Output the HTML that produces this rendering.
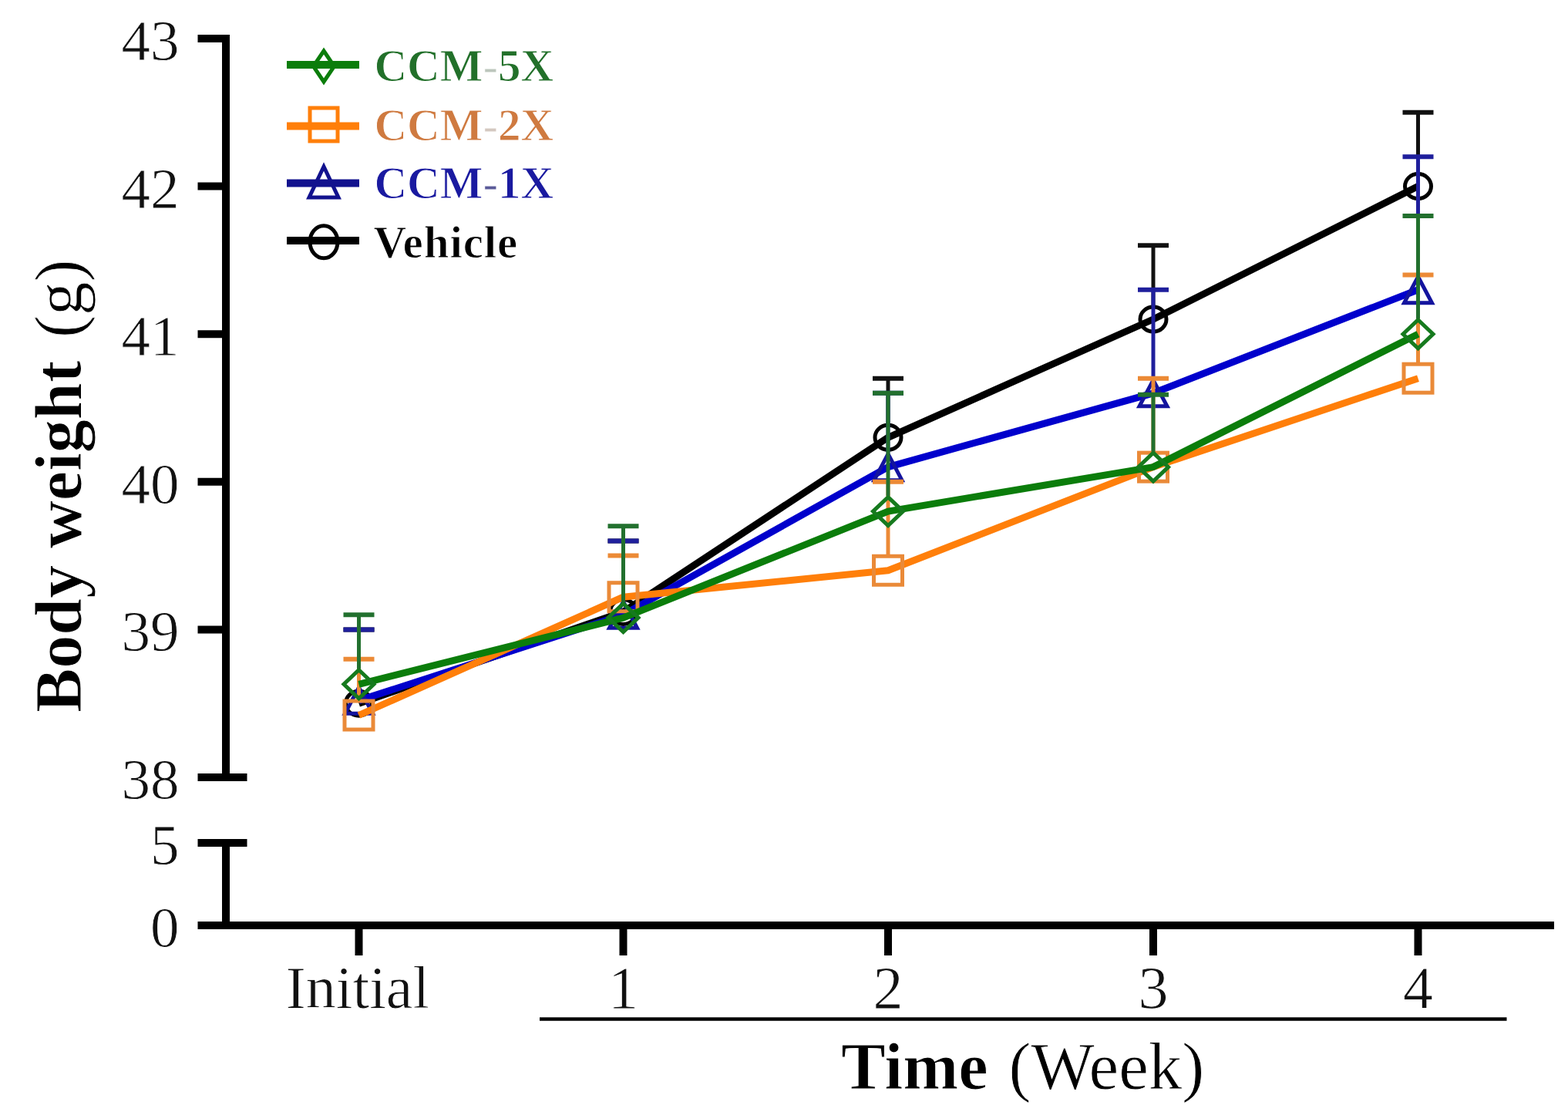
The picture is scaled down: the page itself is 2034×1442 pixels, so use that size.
<!DOCTYPE html>
<html><head><meta charset="utf-8"><title>Body weight chart</title>
<style>
html,body{margin:0;padding:0;background:#fff;}
body{width:2034px;height:1442px;overflow:hidden;}
svg{display:block;}
text{font-family:"Liberation Serif","Times New Roman",serif;}
.r{stroke:#fff;stroke-width:0.8px;}
.b{stroke:#fff;stroke-width:1px;}
</style></head><body>
<svg width="2034" height="1442" viewBox="0 0 2034 1442">
<rect width="2034" height="1442" fill="#fff"/>

<g stroke="#000" stroke-width="10" fill="none" stroke-linecap="butt">
<line x1="293" y1="45.5" x2="293" y2="1012.5"/>
<line x1="256.5" y1="50.0" x2="298" y2="50.0"/>
<line x1="256.5" y1="241.6" x2="298" y2="241.6"/>
<line x1="256.5" y1="433.2" x2="298" y2="433.2"/>
<line x1="256.5" y1="624.8" x2="298" y2="624.8"/>
<line x1="256.5" y1="816.4" x2="298" y2="816.4"/>
<line x1="256.5" y1="1008.0" x2="320.5" y2="1008.0"/>
<line x1="293" y1="1088.5" x2="293" y2="1204.5"/>
<line x1="256.5" y1="1093" x2="320.5" y2="1093"/>
<line x1="256.5" y1="1200" x2="2016" y2="1200"/>
<line x1="465.5" y1="1200" x2="465.5" y2="1239"/>
<line x1="808.5" y1="1200" x2="808.5" y2="1239"/>
<line x1="1152" y1="1200" x2="1152" y2="1239"/>
<line x1="1496" y1="1200" x2="1496" y2="1239"/>
<line x1="1839.5" y1="1200" x2="1839.5" y2="1239"/>
</g>
<line x1="700" y1="1321.5" x2="1954.5" y2="1321.5" stroke="#000" stroke-width="4.5"/>
<g class="r" font-size="75" text-anchor="end" fill="#111">
<text x="232.5" y="78.0">43</text>
<text x="232.5" y="269.6">42</text>
<text x="232.5" y="461.2">41</text>
<text x="232.5" y="652.8">40</text>
<text x="232.5" y="844.4">39</text>
<text x="232.5" y="1036.0">38</text>
<text x="232.5" y="1120.5">5</text>
<text x="232.5" y="1228">0</text>
</g>
<g class="r" font-size="78" text-anchor="middle" fill="#111">
<text x="464.0" y="1307">Initial</text>
<text x="808.5" y="1307">1</text>
<text x="1152" y="1307">2</text>
<text x="1496" y="1307">3</text>
<text x="1839.5" y="1307">4</text>
</g>
<text class="b" x="1091" y="1411.5" font-size="86.5" font-weight="bold" fill="#000">Time</text>
<text class="r" x="1308.5" y="1411.5" font-size="87" fill="#000">(Week)</text>
<g transform="translate(105,924) rotate(-90)"><text class="b" x="0" y="0" font-size="86" font-weight="bold" fill="#000">Body weight</text><text class="r" x="486" y="0" font-size="87" fill="#000">(g)</text></g>
<polyline points="465.5,912.2 808.5,793.4 1152,567.3 1496,414.0 1839.5,241.6" fill="none" stroke="#000" stroke-width="9" stroke-linejoin="round"/>
<ellipse cx="465.5" cy="912.1999999999999" rx="17.0" ry="16.0" fill="none" stroke="#000" stroke-width="5"/>
<ellipse cx="808.5" cy="793.4080000000005" rx="17.0" ry="16.0" fill="none" stroke="#000" stroke-width="5"/>
<ellipse cx="1152" cy="567.3200000000005" rx="17.0" ry="16.0" fill="none" stroke="#000" stroke-width="5"/>
<ellipse cx="1496" cy="414.03999999999974" rx="17.0" ry="16.0" fill="none" stroke="#000" stroke-width="5"/>
<ellipse cx="1839.5" cy="241.6" rx="17.0" ry="16.0" fill="none" stroke="#000" stroke-width="5"/>
<line x1="465.5" y1="894.6999999999999" x2="465.5" y2="816.4" stroke="#111" stroke-width="5"/>
<line x1="445.5" y1="816.4" x2="485.5" y2="816.4" stroke="#111" stroke-width="6"/>
<line x1="808.5" y1="775.9080000000005" x2="808.5" y2="701.4399999999997" stroke="#111" stroke-width="5"/>
<line x1="788.5" y1="701.4399999999997" x2="828.5" y2="701.4399999999997" stroke="#111" stroke-width="6"/>
<line x1="1152" y1="549.8200000000005" x2="1152" y2="490.67999999999944" stroke="#111" stroke-width="5"/>
<line x1="1132" y1="490.67999999999944" x2="1172" y2="490.67999999999944" stroke="#111" stroke-width="6"/>
<line x1="1496" y1="396.53999999999974" x2="1496" y2="318.2399999999997" stroke="#111" stroke-width="5"/>
<line x1="1476" y1="318.2399999999997" x2="1516" y2="318.2399999999997" stroke="#111" stroke-width="6"/>
<line x1="1839.5" y1="224.1" x2="1839.5" y2="145.8" stroke="#111" stroke-width="5"/>
<line x1="1819.5" y1="145.8" x2="1859.5" y2="145.8" stroke="#111" stroke-width="6"/>
<polyline points="465.5,908.4 808.5,797.2 1152,605.6 1496,509.8 1839.5,375.7" fill="none" stroke="#0000cc" stroke-width="9" stroke-linejoin="round"/>
<polygon points="465.5,891.3679999999994 483.5,925.3679999999994 447.5,925.3679999999994" fill="none" stroke="#14149e" stroke-width="5" stroke-linejoin="miter"/>
<polygon points="808.5,780.2399999999997 826.5,814.2399999999997 790.5,814.2399999999997" fill="none" stroke="#14149e" stroke-width="5" stroke-linejoin="miter"/>
<polygon points="1152,588.6399999999998 1170.0,622.6399999999998 1134.0,622.6399999999998" fill="none" stroke="#14149e" stroke-width="5" stroke-linejoin="miter"/>
<polygon points="1496,492.8399999999997 1514.0,526.8399999999997 1478.0,526.8399999999997" fill="none" stroke="#14149e" stroke-width="5" stroke-linejoin="miter"/>
<polygon points="1839.5,358.72000000000054 1857.5,392.72000000000054 1821.5,392.72000000000054" fill="none" stroke="#14149e" stroke-width="5" stroke-linejoin="miter"/>
<line x1="465.5" y1="889.8679999999994" x2="465.5" y2="816.4" stroke="#1f1f9c" stroke-width="5"/>
<line x1="445.5" y1="816.4" x2="485.5" y2="816.4" stroke="#1f1f9c" stroke-width="6"/>
<line x1="808.5" y1="778.7399999999997" x2="808.5" y2="701.4399999999997" stroke="#1f1f9c" stroke-width="5"/>
<line x1="788.5" y1="701.4399999999997" x2="828.5" y2="701.4399999999997" stroke="#1f1f9c" stroke-width="6"/>
<line x1="1152" y1="587.1399999999998" x2="1152" y2="509.8399999999997" stroke="#1f1f9c" stroke-width="5"/>
<line x1="1132" y1="509.8399999999997" x2="1172" y2="509.8399999999997" stroke="#1f1f9c" stroke-width="6"/>
<line x1="1496" y1="491.3399999999997" x2="1496" y2="375.72000000000054" stroke="#1f1f9c" stroke-width="5"/>
<line x1="1476" y1="375.72000000000054" x2="1516" y2="375.72000000000054" stroke="#1f1f9c" stroke-width="6"/>
<line x1="1839.5" y1="357.22000000000054" x2="1839.5" y2="203.27999999999946" stroke="#1f1f9c" stroke-width="5"/>
<line x1="1819.5" y1="203.27999999999946" x2="1859.5" y2="203.27999999999946" stroke="#1f1f9c" stroke-width="6"/>
<polyline points="465.5,927.5 808.5,774.2 1152,739.8 1496,605.6 1839.5,490.7" fill="none" stroke="#ff7f0a" stroke-width="9" stroke-linejoin="round"/>
<rect x="447.0" y="909.0279999999997" width="37.0" height="37.0" fill="none" stroke="#ea8a38" stroke-width="5"/>
<rect x="790.0" y="755.7480000000002" width="37.0" height="37.0" fill="none" stroke="#ea8a38" stroke-width="5"/>
<rect x="1133.5" y="721.2600000000002" width="37.0" height="37.0" fill="none" stroke="#ea8a38" stroke-width="5"/>
<rect x="1477.5" y="587.1399999999998" width="37.0" height="37.0" fill="none" stroke="#ea8a38" stroke-width="5"/>
<rect x="1821.0" y="472.17999999999944" width="37.0" height="37.0" fill="none" stroke="#ea8a38" stroke-width="5"/>
<line x1="465.5" y1="907.5279999999997" x2="465.5" y2="854.7200000000005" stroke="#ec8a36" stroke-width="5"/>
<line x1="445.5" y1="854.7200000000005" x2="485.5" y2="854.7200000000005" stroke="#ec8a36" stroke-width="6"/>
<line x1="808.5" y1="754.2480000000002" x2="808.5" y2="720.6" stroke="#ec8a36" stroke-width="5"/>
<line x1="788.5" y1="720.6" x2="828.5" y2="720.6" stroke="#ec8a36" stroke-width="6"/>
<line x1="1152" y1="719.7600000000002" x2="1152" y2="624.8" stroke="#ec8a36" stroke-width="5"/>
<line x1="1132" y1="624.8" x2="1172" y2="624.8" stroke="#ec8a36" stroke-width="6"/>
<line x1="1496" y1="585.6399999999998" x2="1496" y2="490.67999999999944" stroke="#ec8a36" stroke-width="5"/>
<line x1="1476" y1="490.67999999999944" x2="1516" y2="490.67999999999944" stroke="#ec8a36" stroke-width="6"/>
<line x1="1839.5" y1="470.67999999999944" x2="1839.5" y2="356.5600000000003" stroke="#ec8a36" stroke-width="5"/>
<line x1="1819.5" y1="356.5600000000003" x2="1859.5" y2="356.5600000000003" stroke="#ec8a36" stroke-width="6"/>
<polyline points="465.5,887.3 808.5,801.1 1152,663.1 1496,605.6 1839.5,433.2" fill="none" stroke="#0b7d0b" stroke-width="9" stroke-linejoin="round"/>
<polygon points="465.5,868.7919999999995 485.0,887.2919999999995 465.5,905.7919999999995 446.0,887.2919999999995" fill="none" stroke="#167a1e" stroke-width="5"/>
<polygon points="808.5,782.5720000000003 828.0,801.0720000000003 808.5,819.5720000000003 789.0,801.0720000000003" fill="none" stroke="#167a1e" stroke-width="5"/>
<polygon points="1152,644.6200000000006 1171.5,663.1200000000006 1152,681.6200000000006 1132.5,663.1200000000006" fill="none" stroke="#167a1e" stroke-width="5"/>
<polygon points="1496,587.1399999999998 1515.5,605.6399999999998 1496,624.1399999999998 1476.5,605.6399999999998" fill="none" stroke="#167a1e" stroke-width="5"/>
<polygon points="1839.5,414.7 1859.0,433.2 1839.5,451.7 1820.0,433.2" fill="none" stroke="#167a1e" stroke-width="5"/>
<line x1="465.5" y1="867.2919999999995" x2="465.5" y2="797.2399999999997" stroke="#22702e" stroke-width="5"/>
<line x1="445.5" y1="797.2399999999997" x2="485.5" y2="797.2399999999997" stroke="#22702e" stroke-width="6"/>
<line x1="808.5" y1="781.0720000000003" x2="808.5" y2="682.2799999999994" stroke="#22702e" stroke-width="5"/>
<line x1="788.5" y1="682.2799999999994" x2="828.5" y2="682.2799999999994" stroke="#22702e" stroke-width="6"/>
<line x1="1152" y1="643.1200000000006" x2="1152" y2="509.8399999999997" stroke="#22702e" stroke-width="5"/>
<line x1="1132" y1="509.8399999999997" x2="1172" y2="509.8399999999997" stroke="#22702e" stroke-width="6"/>
<line x1="1496" y1="585.6399999999998" x2="1496" y2="511.75599999999935" stroke="#22702e" stroke-width="5"/>
<line x1="1476" y1="511.75599999999935" x2="1516" y2="511.75599999999935" stroke="#22702e" stroke-width="6"/>
<line x1="1839.5" y1="413.2" x2="1839.5" y2="279.9200000000005" stroke="#22702e" stroke-width="5"/>
<line x1="1819.5" y1="279.9200000000005" x2="1859.5" y2="279.9200000000005" stroke="#22702e" stroke-width="6"/>
<line x1="372" y1="84" x2="466" y2="84" stroke="#0b7d0b" stroke-width="10"/>
<polygon points="420,66.0 433.5,86 420,106.0 406.5,86" fill="none" stroke="#0b7d0b" stroke-width="5"/>
<text class="b" x="485.5" y="105" font-size="59" font-weight="bold" fill="#22702a">CCM<tspan fill="#bcc6bc">-</tspan>5X</text>
<line x1="372" y1="163.5" x2="466" y2="163.5" stroke="#ff7f0a" stroke-width="10"/>
<rect x="402.0" y="140.0" width="36.0" height="43.0" fill="none" stroke="#ff7f0a" stroke-width="5"/>
<text class="b" x="485.5" y="181.8" font-size="59" font-weight="bold" fill="#cf7a40">CCM<tspan fill="#d4c8c0">-</tspan>2X</text>
<line x1="372" y1="237.5" x2="466" y2="237.5" stroke="#12128e" stroke-width="10"/>
<polygon points="420,216.0 439.0,256.0 401.0,256.0" fill="none" stroke="#12128e" stroke-width="5" stroke-linejoin="miter"/>
<text class="b" x="485.5" y="257.3" font-size="59" font-weight="bold" fill="#1a1aa0">CCM<tspan fill="#5a5a98">-</tspan>1X</text>
<line x1="372" y1="312" x2="466" y2="312" stroke="#000" stroke-width="10"/>
<ellipse cx="420" cy="313.7" rx="18.0" ry="21.0" fill="none" stroke="#000" stroke-width="5"/>
<text class="b" x="484.5" y="334" font-size="59" font-weight="bold" fill="#000" letter-spacing="0.9">Vehicle</text>
</svg></body></html>
